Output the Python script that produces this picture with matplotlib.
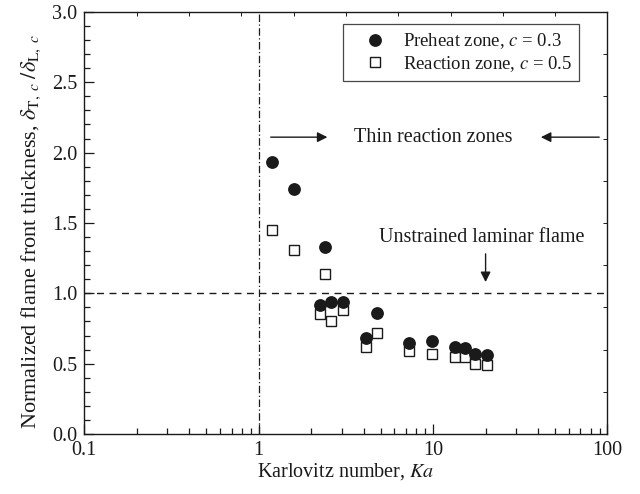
import numpy as np
import matplotlib
matplotlib.use("Agg")
import matplotlib.pyplot as plt
from matplotlib.ticker import FixedLocator, NullFormatter, FuncFormatter

plt.rcParams['font.family'] = ['Liberation Serif', 'DejaVu Serif']
plt.rcParams['mathtext.fontset'] = 'stix'

INK = '#1a1a1a'
FS = 14.5

# Karlovitz number for each run
ka = [1.2, 1.6, 2.4, 2.25, 2.6, 3.05, 4.75, 4.15, 7.3, 9.85, 13.4, 15.3, 17.4, 20.4]
# normalized thickness, preheat zone (c = 0.3)
preheat = [1.93, 1.74, 1.33, 0.92, 0.94, 0.94, 0.86, 0.68, 0.65, 0.66, 0.62, 0.61, 0.57, 0.56]
# normalized thickness, reaction zone (c = 0.5)
reaction = [1.45, 1.31, 1.14, 0.85, 0.80, 0.88, 0.72, 0.62, 0.59, 0.57, 0.55, 0.55, 0.50, 0.49]

fig = plt.figure(figsize=(6.4, 4.94), dpi=100)
ax = fig.add_axes([0.1317, 0.1215, 0.8175, 0.8543])

ax.axhline(1.0, color=INK, lw=1.0, ls=(0, (5, 4)), zorder=1)
ax.axvline(1.0, color=INK, lw=0.9, ls=(0, (6, 2, 1, 2)), zorder=1)

ax.plot(ka, preheat, 'o', ms=8.2, mfc=INK, mec=INK, ls='none',
        label='Preheat zone, $c$ = 0.3', zorder=3)
ax.plot(ka, reaction, 's', ms=7.2, mfc='white', mec=INK, mew=1.0, ls='none',
        label='Reaction zone, $c$ = 0.5', zorder=2)

ax.set_xscale('log')
ax.set_xlim(0.1, 100)
ax.set_ylim(0, 3.0)

# annotations
ax.text(10, 2.11, 'Thin reaction zones', ha='center', va='center', fontsize=FS, color=INK)
arrow = dict(arrowstyle='-|>', color=INK, lw=1.0, mutation_scale=15)
ax.annotate('', xy=(2.57, 2.11), xytext=(1.13, 2.11), arrowprops=arrow)
ax.annotate('', xy=(40, 2.11), xytext=(93, 2.11), arrowprops=arrow)
ax.text(19, 1.40, 'Unstrained laminar flame', ha='center', va='center', fontsize=FS, color=INK)
ax.annotate('', xy=(20, 1.06), xytext=(20, 1.30), arrowprops=arrow)

ax.set_xlabel('Karlovitz number, $Ka$', fontsize=FS, color=INK, labelpad=1)
ax.set_ylabel(r'Normalized flame front thickness, $\delta_{\mathrm{T},\;c}\;/\delta_{\mathrm{L},\;c}$',
              fontsize=16, color=INK)
ax.yaxis.set_label_coords(-0.078, 0.48)

ax.set_yticks(np.arange(0, 3.01, 0.5))
ax.yaxis.set_major_formatter(FuncFormatter(lambda v, p: f'{v:.1f}'))
ax.yaxis.set_minor_locator(FixedLocator(np.arange(0, 3.01, 0.1)))
ax.xaxis.set_major_formatter(FuncFormatter(lambda v, p: f'{v:g}'))
ax.xaxis.set_minor_formatter(NullFormatter())
ax.tick_params(which='both', direction='in', top=False, right=False, colors=INK,
               labelsize=FS, width=0.9)
ax.tick_params(which='major', length=7, pad=5)
ax.tick_params(which='minor', length=4)
for s in ax.spines.values():
    s.set_color(INK)
    s.set_linewidth(1.0)

leg = ax.legend(loc='upper right', bbox_to_anchor=(0.9465, 0.972), fontsize=13.5,
                frameon=True, fancybox=False, edgecolor=INK, borderpad=0.4,
                handletextpad=0.2, labelspacing=0.15, borderaxespad=0, handlelength=2.6)
leg.get_frame().set_linewidth(0.9)
for t in leg.get_texts():
    t.set_color(INK)

# plain linear ticks along the top and right frame
top = ax.twiny()
top.set_xlim(0, 1)
top.set_xticks(np.arange(0.1, 1.0, 0.1))
top.tick_params(axis='x', direction='in', length=3, width=0.7, colors=INK, labeltop=False)
right = ax.twinx()
right.set_ylim(0, 1)
right.set_yticks(np.arange(0.1, 1.0, 0.1))
right.tick_params(axis='y', direction='in', length=3, width=0.7, colors=INK, labelright=False)
for a in (top, right):
    for s in a.spines.values():
        s.set_visible(False)

fig.savefig('out.png', dpi=100)
